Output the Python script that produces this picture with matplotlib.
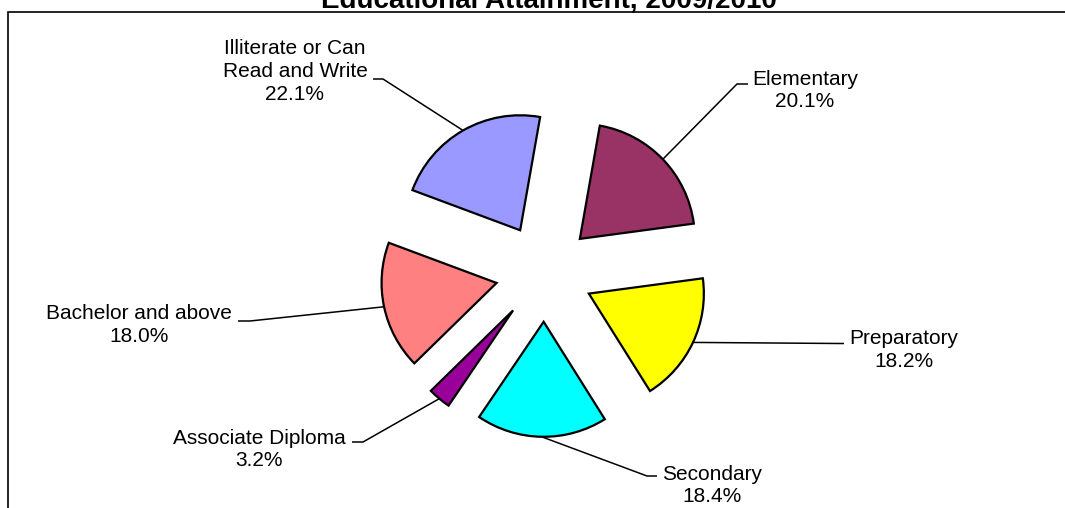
import matplotlib
matplotlib.use("Agg")
import matplotlib.pyplot as plt
import numpy as np
from matplotlib.patches import Rectangle

# ---- data ----
categories = ['Elementary', 'Preparatory', 'Secondary', 'Associate Diploma',
              'Bachelor and above', 'Illiterate or Can\nRead and Write']
shares = [20.1, 18.2, 18.4, 3.2, 18.0, 22.1]
title = 'Educational Attainment, 2009/2010'

# ---- styles / layout ----
colors = ['#993366', '#FFFF00', '#00FFFF', '#990099', '#FF8080', '#9999FF']
W, H, DPI = 1065, 508, 100
CX, CY, S = 544.5, 272.8, 115.0  # pie centre (px) and radius (px)

# label block centres (px) and leader elbow/end points (px)
label_pos = [(805, 90.5), (904, 350), (712, 485.5), (259, 449.5), (139, 325), (295, 71.5)]
leader_pts = [((737, 84), (748, 84)), ((840, 343.5), (844, 343.5)),
              ((647, 476), (657, 476)), ((363, 442), (352, 442)),
              ((250, 321), (238, 321)), ((383, 79), (373, 79))]

plt.rcParams['font.family'] = ['Liberation Sans', 'DejaVu Sans']

fig = plt.figure(figsize=(W / DPI, H / DPI), dpi=DPI)
ax = fig.add_axes([0, 0, 1, 1])

wedges, _ = ax.pie(shares, startangle=80, counterclock=False,
                   explode=[0.426] * len(shares), colors=colors, radius=1,
                   wedgeprops=dict(edgecolor='black', linewidth=1.6))

ax.set_xlim(-CX / S, (W - CX) / S)
ax.set_ylim(-(H - CY) / S, CY / S)
ax.set_aspect('auto')
ax.axis('off')


def px2d(px, py):
    return (px - CX) / S, (CY - py) / S


for w, lab, val, lp, (elb, end) in zip(wedges, categories, shares, label_pos, leader_pts):
    mid = np.deg2rad((w.theta1 + w.theta2) / 2)
    cx, cy = w.center
    sx, sy = cx + w.r * np.cos(mid), cy + w.r * np.sin(mid)
    ex, ey = px2d(*elb)
    nx, ny = px2d(*end)
    ax.plot([sx, ex, nx], [sy, ey, ny], color='black', lw=1.1, zorder=0.5,
            solid_capstyle='butt')
    tx, ty = px2d(*lp)
    ax.text(tx, ty, f'{lab}\n{val:.1f}%', ha='center', va='center',
            fontsize=15, linespacing=1.26, color='black')

fig.text(549 / W, 1 - 8 / H, title, ha='center', va='baseline',
         fontsize=20, fontweight='bold')

fig.add_artist(Rectangle((7.5 / W, -0.1), 1.2, 1.1 - 12 / H, fill=False,
                         edgecolor='black', lw=1.2, transform=fig.transFigure,
                         clip_on=False))

fig.savefig('out.png', dpi=DPI, facecolor='white')
